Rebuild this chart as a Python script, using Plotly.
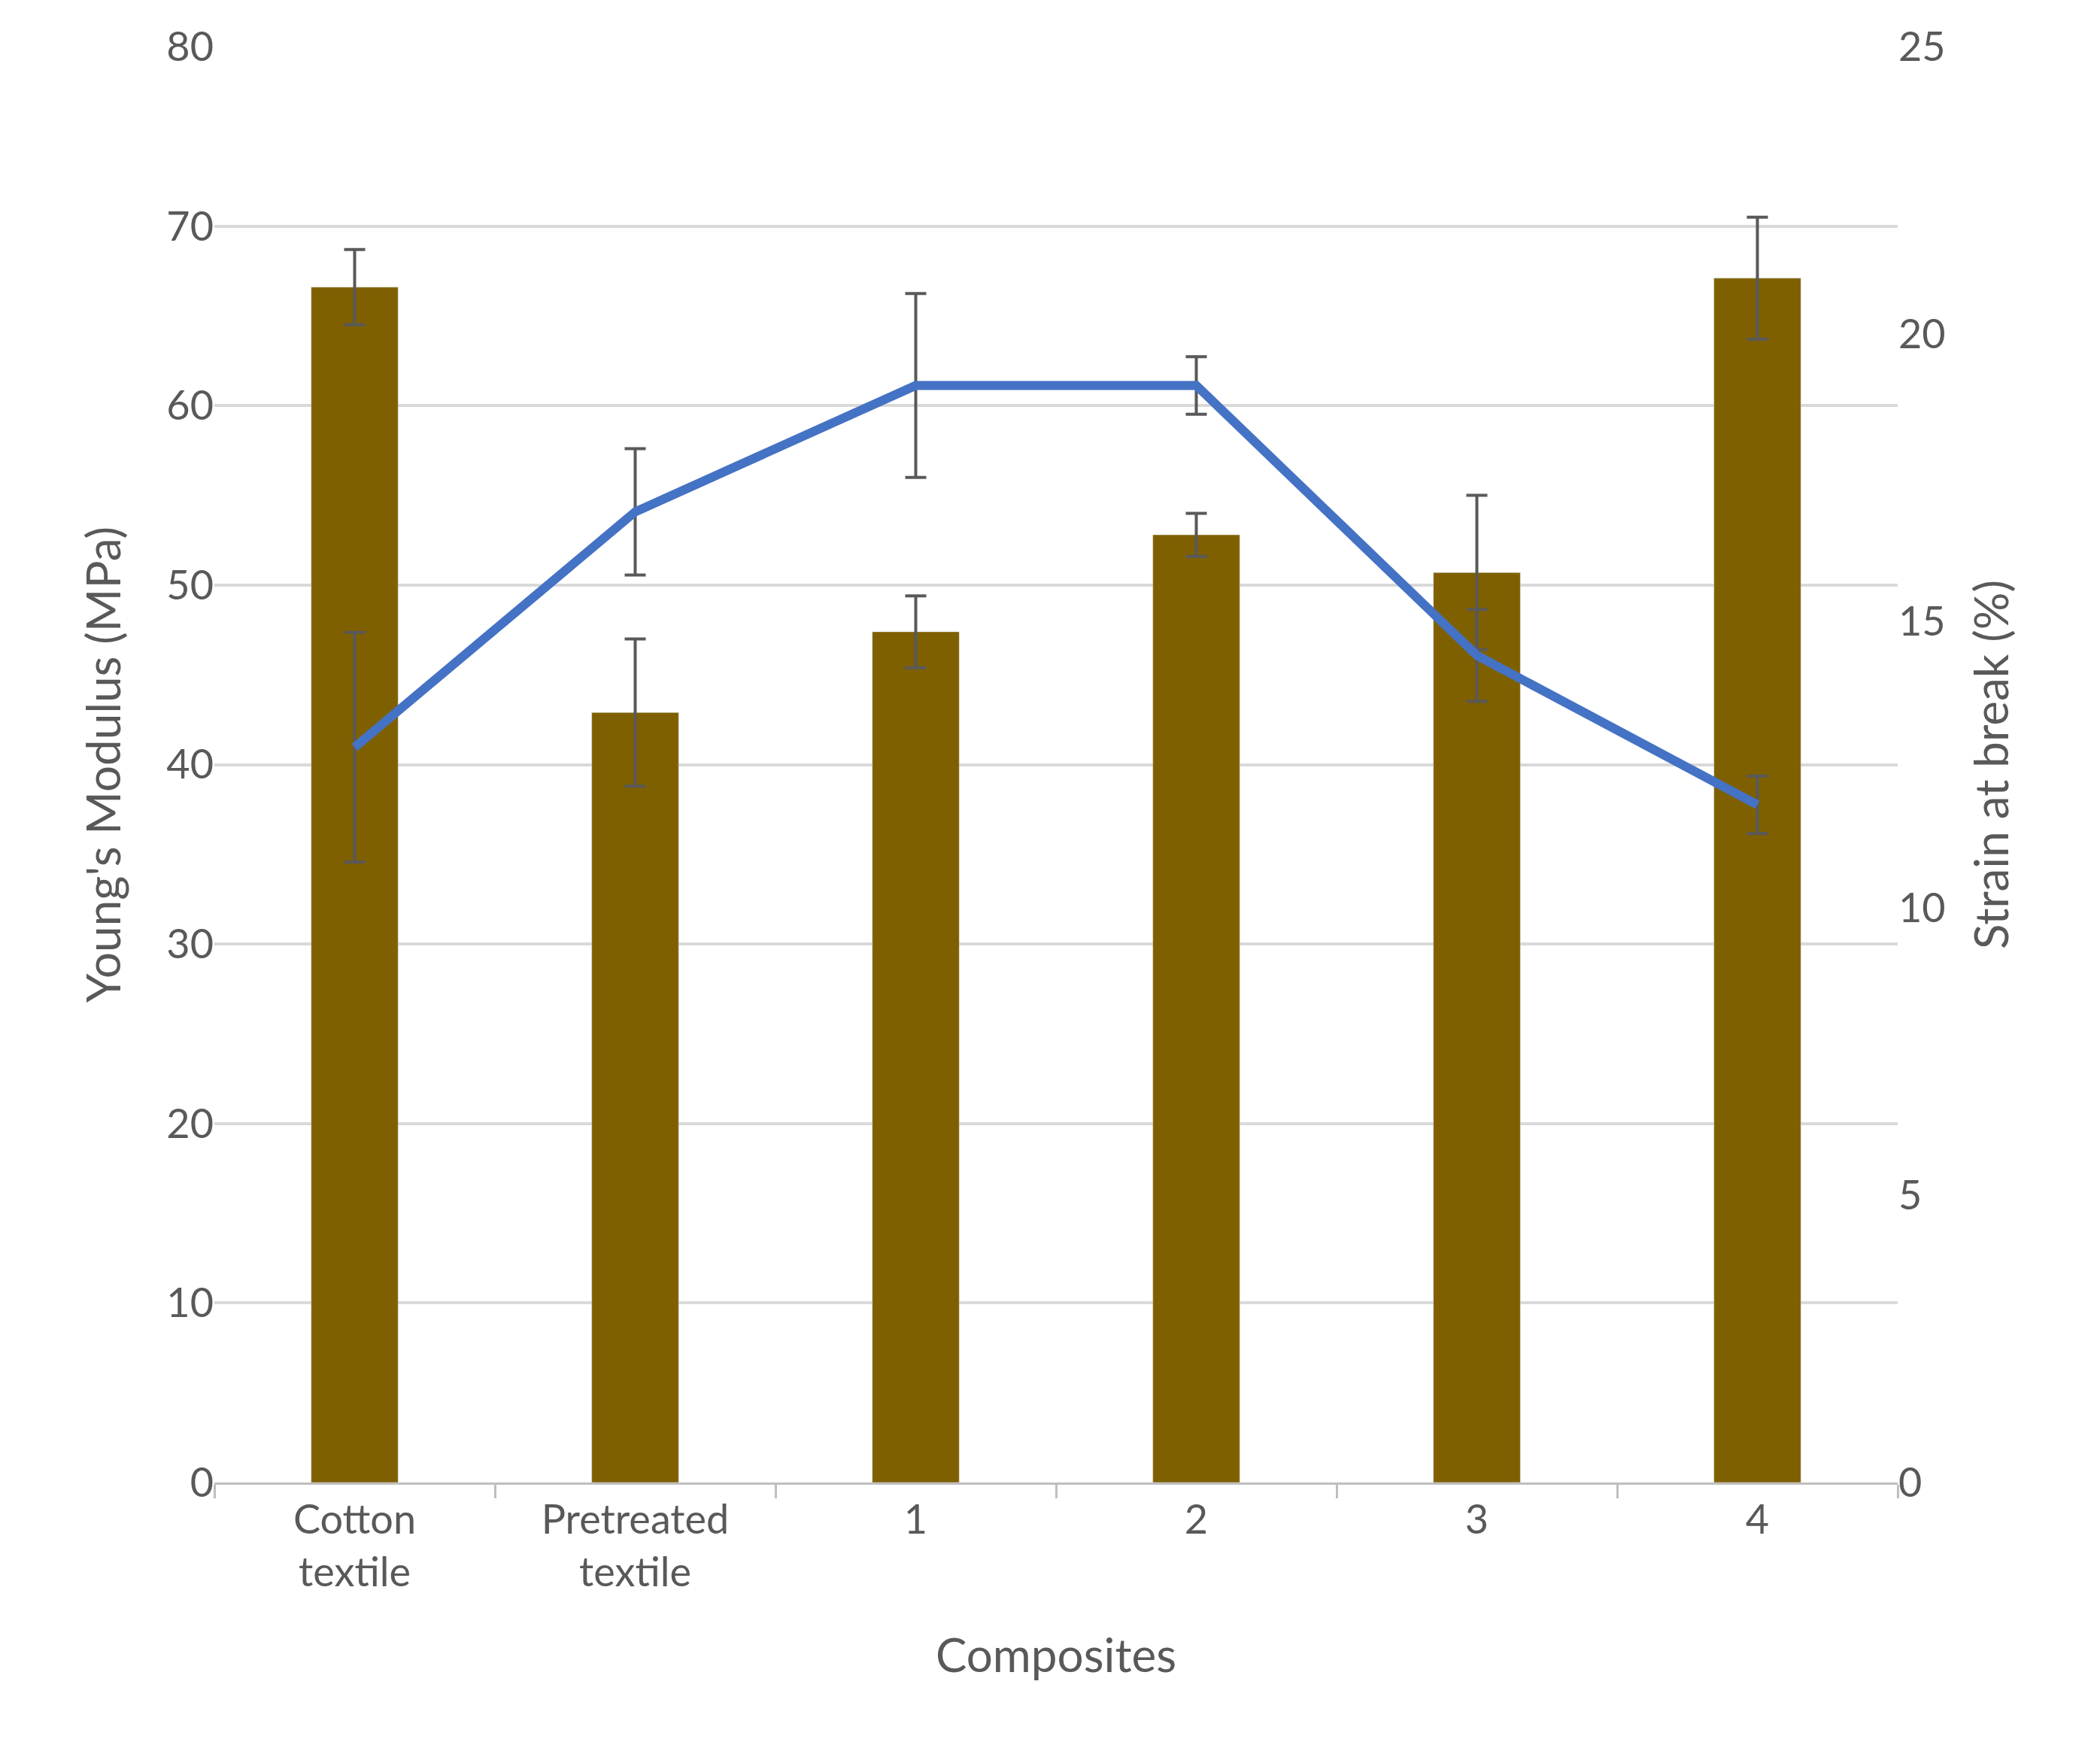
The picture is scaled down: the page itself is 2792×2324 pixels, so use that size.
import plotly.graph_objects as go

categories = ["Cotton<br>textile", "Pretreated<br>textile", "1", "2", "3", "4"]
modulus = [66.6, 42.9, 47.4, 52.8, 50.7, 67.1]
modulus_err = [2.1, 4.1, 2.0, 1.2, 4.3, 3.4]
strain = [12.8, 16.9, 19.1, 19.1, 14.4, 11.8]
strain_err = [2.0, 1.1, 1.6, 0.5, 0.8, 0.5]

font = dict(family="Lato, Open Sans, sans-serif", color="#595959")
fig = go.Figure()
fig.add_trace(go.Bar(x=categories, y=modulus, marker_color="#7F6000", width=0.31,
                     error_y=dict(type="data", array=modulus_err, color="#595959", thickness=4, width=14)))
fig.add_trace(go.Scatter(x=categories, y=strain, yaxis="y2", mode="lines",
                         line=dict(color="#4472C4", width=12),
                         error_y=dict(type="data", array=strain_err, color="#595959", thickness=4, width=14)))
fig.update_layout(
    width=2792, height=2324, showlegend=False, plot_bgcolor="white", paper_bgcolor="white",
    margin=dict(l=277, r=277, t=54, b=361), font=dict(size=54, **font),
    xaxis=dict(showline=True, linecolor="#BFBFBF", linewidth=3, ticks="outside", tickson="boundaries",
               ticklen=18, tickcolor="#BFBFBF", tickwidth=3,
               title=dict(text="Composites", font=dict(size=62), standoff=60)),
    yaxis=dict(range=[0, 80], dtick=10, gridcolor="#D9D9D9", gridwidth=4, zeroline=False,
               title=dict(text="Young's Modulus (MPa)", font=dict(size=62), standoff=40)),
    yaxis2=dict(range=[0, 25], dtick=5, overlaying="y", side="right", showgrid=False, zeroline=False,
                title=dict(text="Strain at break (%)", font=dict(size=62), standoff=40)),
)
fig.write_html("out.html")
